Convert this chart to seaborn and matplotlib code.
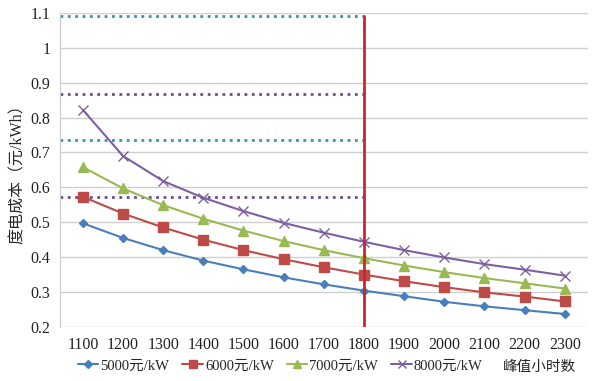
import matplotlib
matplotlib.use("Agg")
import matplotlib.pyplot as plt
import pandas as pd
import seaborn as sns

# peak hours (x) and cost per kWh for each investment level
hours = [1100, 1200, 1300, 1400, 1500, 1600, 1700, 1800, 1900, 2000, 2100, 2200, 2300]
cost_5000 = [0.497, 0.455, 0.420, 0.390, 0.365, 0.342, 0.322, 0.304, 0.288, 0.272, 0.259, 0.248, 0.237]
cost_6000 = [0.573, 0.525, 0.485, 0.450, 0.420, 0.394, 0.371, 0.350, 0.331, 0.314, 0.299, 0.287, 0.273]
cost_7000 = [0.658, 0.597, 0.549, 0.510, 0.476, 0.446, 0.420, 0.397, 0.376, 0.357, 0.340, 0.325, 0.310]
cost_8000 = [0.822, 0.690, 0.618, 0.570, 0.532, 0.498, 0.470, 0.444, 0.420, 0.399, 0.380, 0.364, 0.347]
series_names = ["5000元/kW", "6000元/kW", "7000元/kW", "8000元/kW"]

# reference lines
ref_hour = 1800
ref_blue = [1.09, 0.737]
ref_purple = [0.867, 0.573]

sns.set_style("white")
plt.rcParams['font.family'] = ['Liberation Serif', 'Noto Sans CJK SC']
plt.rcParams['axes.unicode_minus'] = False

fig = plt.figure(figsize=(6, 3.81), dpi=100)
ax = fig.add_axes([0.10, 0.142, 0.88, 0.824])

colors = ["#4A7EBB", "#BE4B48", "#98B954", "#7D60A0"]
markers = ["D", "s", "^", "x"]
msizes = [4.5, 6.5, 6.5, 6.5]
for name, vals, c, m, ms in zip(series_names, [cost_5000, cost_6000, cost_7000, cost_8000],
                                colors, markers, msizes):
    d = pd.DataFrame({"hours": hours, "cost": vals})
    sns.lineplot(data=d, x="hours", y="cost", color=c, marker=m, markersize=ms,
                 markeredgecolor=c, markeredgewidth=1, linewidth=1.5,
                 label=name, ax=ax, zorder=3)

xlo, xhi = 1043, 2358
ax.set_xlim(xlo, xhi)
ax.set_ylim(0.2, 1.1)
ax.set_xticks(hours)
ax.set_yticks([0.2, 0.3, 0.4, 0.5, 0.6, 0.7, 0.8, 0.9, 1.0, 1.1])
ax.set_yticklabels(["0.2", "0.3", "0.4", "0.5", "0.6", "0.7", "0.8", "0.9", "1", "1.1"])
ax.tick_params(axis='both', labelsize=11.5, length=0, pad=7, colors="#222222")
ax.yaxis.grid(True, color="#D0D0D0", linewidth=1)
for s in ["top", "right", "bottom"]:
    ax.spines[s].set_visible(False)
ax.spines["left"].set_color("#C8C8C8")

xfrac = (ref_hour - xlo) / (xhi - xlo)
for y in ref_blue:
    ax.axhline(y, xmin=0, xmax=xfrac, color="#3A8FB5", linestyle=":", linewidth=2, zorder=2)
for y in ref_purple:
    ax.axhline(y, xmin=0, xmax=xfrac, color="#6B4C94", linestyle=":", linewidth=2, zorder=2)
ax.plot([ref_hour, ref_hour], [0.2, 1.09], color="#C8282D", linewidth=2, zorder=4)

ax.set_xlabel("")
ax.set_ylabel("度电成本（元/kWh）", fontsize=11.5, labelpad=3)

handles, labels = ax.get_legend_handles_labels()
ax.legend(handles, labels, loc="center", bbox_to_anchor=(0.467, 0.04),
          bbox_transform=fig.transFigure, ncol=4, frameon=False,
          fontsize=10.5, handlelength=1.4, handletextpad=0.15, columnspacing=0.9,
          markerscale=0.8)

fig.text(0.90, 0.035, "峰值小时数", fontsize=10.5, ha="center", va="center")

fig.savefig("out.png", dpi=100)
